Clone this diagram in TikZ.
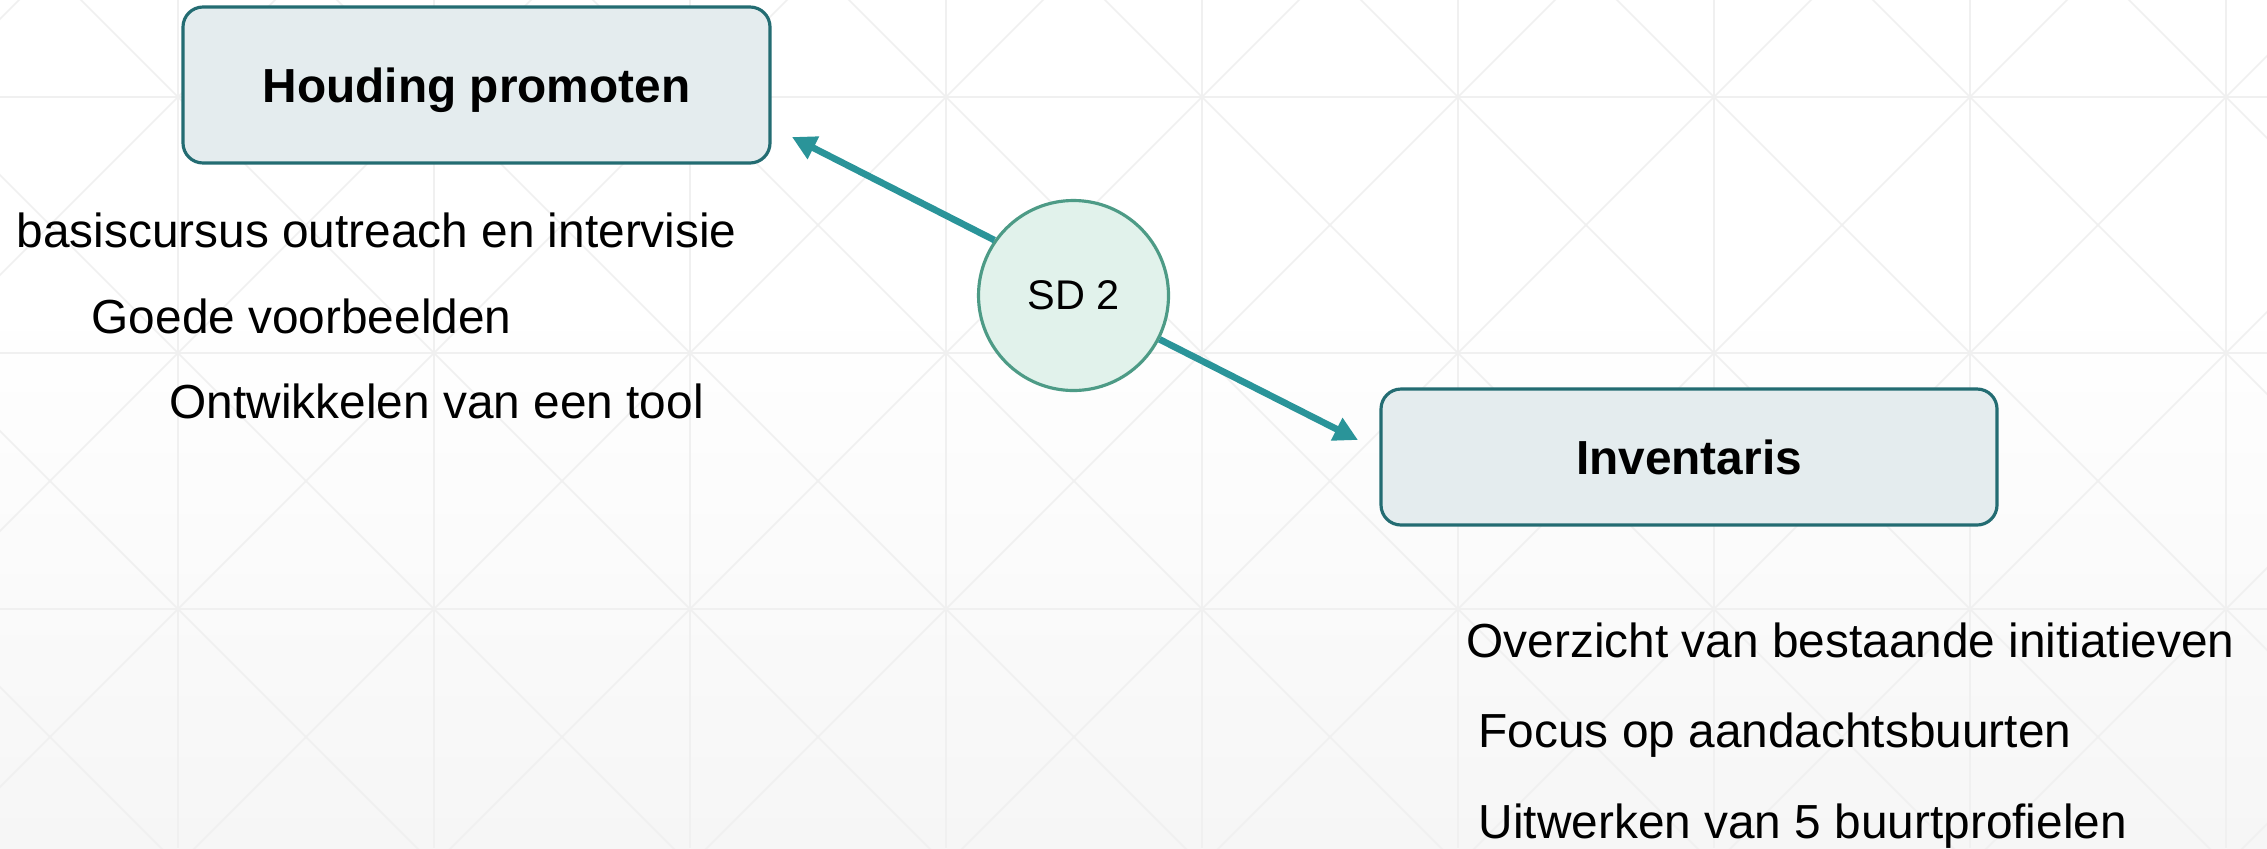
\documentclass[tikz,border=0pt]{standalone}
\usepackage{fontspec}
\setmainfont{Liberation Sans}
\usetikzlibrary{arrows.meta}
\definecolor{boxfill}{HTML}{E4ECEE}
\definecolor{boxline}{HTML}{236C72}
\definecolor{sdfill}{HTML}{E1F2EB}
\definecolor{sdline}{HTML}{4D9B86}
\definecolor{arrowteal}{HTML}{2A9499}
\definecolor{gridgray}{HTML}{F0F0F0}
\definecolor{bgbottom}{HTML}{F6F6F6}
\begin{document}
\begin{tikzpicture}[>={Triangle[length=0.24cm,width=0.24cm]},
  goal/.style={draw=boxline, line width=0.9pt, fill=boxfill, rounded corners=0.2cm,
    text depth=0pt, font=\fontsize{13.6}{16}\selectfont\bfseries},
  item/.style={anchor=base west, inner sep=0pt, font=\fontsize{13.6}{16}\selectfont},
  link/.style={draw=arrowteal, line width=1.9pt},
  gridline/.style={gridgray, line width=0.45pt}]
\useasboundingbox (0,0) rectangle (22.67,-8.48);

% background
\fill[white] (0,0) rectangle (22.67,-3);
\shade[top color=white, bottom color=bgbottom] (0,-3) rectangle (22.67,-8.48);
\begin{scope}
\clip (0,0) rectangle (22.67,-8.48);
\foreach \i in {0,...,9} \draw[gridline] (-0.78+2.56*\i,0) -- ++(0,-8.48);
\foreach \j in {0,1,2} \draw[gridline] (0,-0.97-2.56*\j) -- ++(22.67,0);
\foreach \i in {-4,...,12} {
  \draw[gridline] (-0.78+2.56*\i,-0.97) ++(-10,10) -- ++(20,-20);
  \draw[gridline] (-0.78+2.56*\i,-0.97) ++(-10,-10) -- ++(20,20);
}
\end{scope}

\node(houding)[goal, minimum width=5.87cm, minimum height=1.56cm] at (4.765,-0.85) {Houding promoten};
\node(inventaris)[goal, minimum width=6.16cm, minimum height=1.36cm] at (16.89,-4.57) {Inventaris};
\node(sd)[circle, draw=sdline, line width=0.9pt, fill=sdfill, minimum size=1.9cm, inner sep=0pt,
  font=\fontsize{11.8}{14}\selectfont] at (10.735,-2.955) {SD 2};

\coordinate (tipA) at (7.92,-1.37);
\coordinate (tipB) at (13.58,-4.40);
\draw (sd.145) edge[->, link] (tipA);
\draw (sd.-27) edge[->, link] (tipB);

\node(basis)[item] at (0.16,-2.47) {basiscursus outreach en intervisie};
\node(goede)[item] at (0.91,-3.33) {Goede voorbeelden};
\node(tool)[item] at (1.69,-4.18) {Ontwikkelen van een tool};

\node(overzicht)[item] at (14.66,-6.57) {Overzicht van bestaande initiatieven};
\node(focus)[item] at (14.78,-7.47) {Focus op aandachtsbuurten};
\node(uitwerken)[item] at (14.78,-8.38) {Uitwerken van 5 buurtprofielen};
\end{tikzpicture}
\end{document}
